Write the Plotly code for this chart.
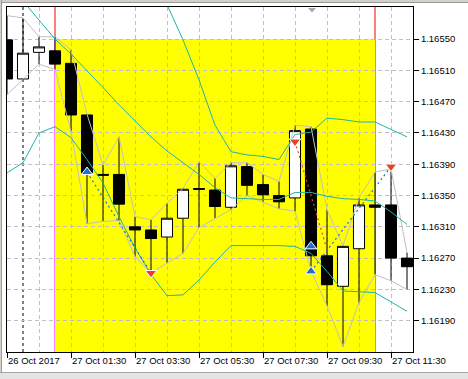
import plotly.graph_objects as go

# ---- data (EURUSD M30) ----
bar_times = ["26 Oct 23:30", "27 Oct 00:00", "27 Oct 00:30", "27 Oct 01:00", "27 Oct 01:30",
             "27 Oct 02:00", "27 Oct 02:30", "27 Oct 03:00", "27 Oct 03:30", "27 Oct 04:00",
             "27 Oct 04:30", "27 Oct 05:00", "27 Oct 05:30", "27 Oct 06:00", "27 Oct 06:30",
             "27 Oct 07:00", "27 Oct 07:30", "27 Oct 08:00", "27 Oct 08:30", "27 Oct 09:00",
             "27 Oct 09:30", "27 Oct 10:00", "27 Oct 10:30", "27 Oct 11:00", "27 Oct 11:30",
             "27 Oct 12:00"]
opens  = [1.16549, 1.16499, 1.16533, 1.16535, 1.16519, 1.16453, 1.16377, 1.16377, 1.16310, 1.16306,
          1.16297, 1.16321, 1.16359, 1.16357, 1.16335, 1.16387, 1.16364, 1.16350, 1.16347, 1.16435,
          1.16273, 1.16234, 1.16282, 1.16338, 1.16338, 1.16270]
highs  = [1.16580, 1.16577, 1.16553, 1.16553, 1.16536, 1.16454, 1.16389, 1.16425, 1.16323, 1.16319,
          1.16340, 1.16359, 1.16393, 1.16372, 1.16392, 1.16392, 1.16377, 1.16368, 1.16440, 1.16438,
          1.16332, 1.16286, 1.16347, 1.16380, 1.16384, 1.16277]
lows   = [1.16479, 1.16498, 1.16518, 1.16511, 1.16432, 1.16314, 1.16317, 1.16318, 1.16272, 1.16251,
          1.16264, 1.16276, 1.16309, 1.16321, 1.16332, 1.16350, 1.16342, 1.16333, 1.16330, 1.16254,
          1.16209, 1.16157, 1.16213, 1.16249, 1.16241, 1.16230]
closes = [1.16499, 1.16532, 1.16540, 1.16518, 1.16453, 1.16379, 1.16376, 1.16339, 1.16306, 1.16295,
          1.16321, 1.16358, 1.16358, 1.16336, 1.16388, 1.16363, 1.16351, 1.16342, 1.16433, 1.16273,
          1.16236, 1.16285, 1.16338, 1.16335, 1.16270, 1.16259]

bb_upper  = [1.16867, 1.16806, 1.16720, 1.16662, 1.16638, 1.16624, 1.16610, 1.16609, 1.16609, 1.16601,
             1.16594, 1.16549, 1.16498, 1.16440, 1.16406, 1.16402, 1.16400, 1.16396, 1.16428, 1.16431,
             1.16449, 1.16447, 1.16444, 1.16444, 1.16434, 1.16425]
bb_middle = [1.16623, 1.16599, 1.16575, 1.16550, 1.16531, 1.16510, 1.16488, 1.16466, 1.16446, 1.16425,
             1.16407, 1.16392, 1.16377, 1.16360, 1.16347, 1.16346, 1.16345, 1.16345, 1.16354, 1.16354,
             1.16349, 1.16346, 1.16345, 1.16343, 1.16329, 1.16313]
bb_lower  = [1.16379, 1.16392, 1.16430, 1.16438, 1.16424, 1.16396, 1.16366, 1.16323, 1.16283, 1.16249,
             1.16222, 1.16223, 1.16242, 1.16265, 1.16286, 1.16286, 1.16286, 1.16286, 1.16285, 1.16276,
             1.16253, 1.16228, 1.16227, 1.16226, 1.16214, 1.16202]

buy_bars  = [5, 19, 19]
buy_price = [1.16380, 1.16285, 1.16253]
sell_bars  = [9, 18, 24]
sell_price = [1.16251, 1.16419, 1.16387]

blue_seg1_bars, blue_seg1_price = [5, 9], [1.16380, 1.16251]
red_seg_bars, red_seg_price = [18, 20], [1.16419, 1.16281]
blue_seg2_bars, blue_seg2_price = [19, 24], [1.16253, 1.16387]

zone_start_bar, zone_end_bar, zone_top = 3, 23, 1.16550
day_separator_bar = 1

x_tick_bars = [0, 4, 8, 12, 16, 20, 24]
x_tick_labels = ["26 Oct 2017", "27 Oct 01:30", "27 Oct 03:30", "27 Oct 05:30",
                 "27 Oct 07:30", "27 Oct 09:30", "27 Oct 11:30"]
y_ticks = [1.16190, 1.16230, 1.16270, 1.16310, 1.16350, 1.16390, 1.16430, 1.16470, 1.16510, 1.16550]
y_range = [1.16150, 1.16591]

# ---- figure ----
bars = list(range(len(opens)))
W, H = 468, 379
ML, MR, MT, MB = 7, 55, 7, 27
PW, PH = W - ML - MR, H - MT - MB

GRID = "#C0C0C0"
TEAL = "#20B2AA"
BLUE = "#1F6FD6"
RED = "#E8432A"
FONT = dict(family="Liberation Sans, Arial, sans-serif", size=9.5, color="black")

fig = go.Figure()

fig.add_trace(go.Scatter(x=bars, y=highs, mode="lines", line=dict(color=GRID, width=1), hoverinfo="skip"))
fig.add_trace(go.Scatter(x=bars, y=lows, mode="lines", line=dict(color=GRID, width=1), hoverinfo="skip"))

fig.add_trace(go.Candlestick(
    x=bars, open=opens, high=highs, low=lows, close=closes, text=bar_times,
    increasing=dict(line=dict(color="black", width=1), fillcolor="white"),
    decreasing=dict(line=dict(color="black", width=1), fillcolor="black"),
    whiskerwidth=0, hoverinfo="x+text"))

for band in (bb_upper, bb_middle, bb_lower):
    fig.add_trace(go.Scatter(x=bars, y=band, mode="lines", line=dict(color=TEAL, width=1), hoverinfo="skip"))

for sx, sy, col in ((blue_seg1_bars, blue_seg1_price, BLUE), (red_seg_bars, red_seg_price, RED),
                    (blue_seg2_bars, blue_seg2_price, BLUE)):
    fig.add_trace(go.Scatter(x=sx, y=sy, mode="lines", line=dict(color=col, width=1.2, dash="2px,3px"),
                             hoverinfo="skip"))

fig.add_trace(go.Scatter(x=buy_bars, y=buy_price, mode="markers",
                         marker=dict(symbol="triangle-up", size=10, color=BLUE, line=dict(color="white", width=1))))
fig.add_trace(go.Scatter(x=sell_bars, y=sell_price, mode="markers",
                         marker=dict(symbol="triangle-down", size=10, color=RED, line=dict(color="white", width=1))))

# zone and vertical lines
fig.add_shape(type="rect", xref="x", yref="y", x0=zone_start_bar, x1=zone_end_bar, y0=y_range[0] - 0.001,
              y1=zone_top, fillcolor="#FFFF00", line=dict(width=0), layer="below")
fig.add_shape(type="line", xref="x", yref="paper", x0=zone_start_bar, x1=zone_start_bar, y0=0,
              y1=(zone_top - y_range[0]) / (y_range[1] - y_range[0]),
              line=dict(color="#FF00FF", width=1), layer="between")
fig.add_shape(type="line", xref="x", yref="paper", x0=zone_start_bar, x1=zone_start_bar,
              y0=(zone_top - y_range[0]) / (y_range[1] - y_range[0]), y1=1,
              line=dict(color="#FF0000", width=1), layer="between")
fig.add_shape(type="line", xref="x", yref="paper", x0=zone_end_bar, x1=zone_end_bar, y0=0, y1=1,
              line=dict(color="#FF0000", width=1), layer="between")
fig.add_shape(type="line", xref="x", yref="paper", x0=day_separator_bar, x1=day_separator_bar, y0=0, y1=1,
              line=dict(color="black", width=1, dash="3px,3px"), layer="between")

# window chrome (pixel based, outside the plot)
def px_x(p):
    return (p - ML) / PW

def px_y(p):
    return (H - MB - p) / PH

chrome = [
    (0, 0, W, 3, "#D4D0C8"), (0, 2, W, 3, "#9A9A9A"),
    (0, 0, 2, H, "#D4D0C8"), (1, 0, 2, H, "#9A9A9A"),
    (0, 373, W, H, "#E4E4E4"), (0, 372, W, 373, "#A8A8A8"),
]
for x0, y0, x1, y1, c in chrome:
    fig.add_shape(type="rect", xref="paper", yref="paper", x0=px_x(x0), x1=px_x(x1), y0=px_y(y1), y1=px_y(y0),
                  fillcolor=c, line=dict(width=0), layer="above")
fig.add_shape(type="path", xref="paper", yref="paper",
              path="M {} {} L {} {} L {} {} Z".format(px_x(308), px_y(8), px_x(316), px_y(8), px_x(312), px_y(12.5)),
              fillcolor="#A8A8A8", line=dict(width=0), layer="above")

fig.update_layout(
    width=W, height=H, margin=dict(l=ML, r=MR, t=MT, b=MB),
    paper_bgcolor="white", plot_bgcolor="white", showlegend=False,
    boxgap=0.31, boxgroupgap=0,
    xaxis=dict(range=[0, (PW) / 16.0], tickmode="array", tickvals=x_tick_bars, ticktext=x_tick_labels,
               ticks="outside", ticklen=5, tickcolor="black", tickwidth=1,
               ticklabelposition="outside right", tickfont=FONT,
               showline=True, linecolor="black", linewidth=1, mirror=True, zeroline=False,
               showgrid=True, gridcolor=GRID, griddash="4px,3px", gridwidth=1,
               minor=dict(dtick=2, tick0=0, showgrid=True, gridcolor=GRID, griddash="4px,3px", gridwidth=1),
               rangeslider=dict(visible=False), fixedrange=True),
    yaxis=dict(range=y_range, side="right", tickmode="array", tickvals=y_ticks,
               ticktext=["{:.5f}".format(v) for v in y_ticks],
               ticks="outside", ticklen=5, tickcolor="black", tickwidth=1, tickfont=FONT,
               showline=True, linecolor="black", linewidth=1, mirror=True, zeroline=False,
               showgrid=True, gridcolor=GRID, griddash="4px,3px", gridwidth=1, fixedrange=True),
)

fig.write_html("out.html")
